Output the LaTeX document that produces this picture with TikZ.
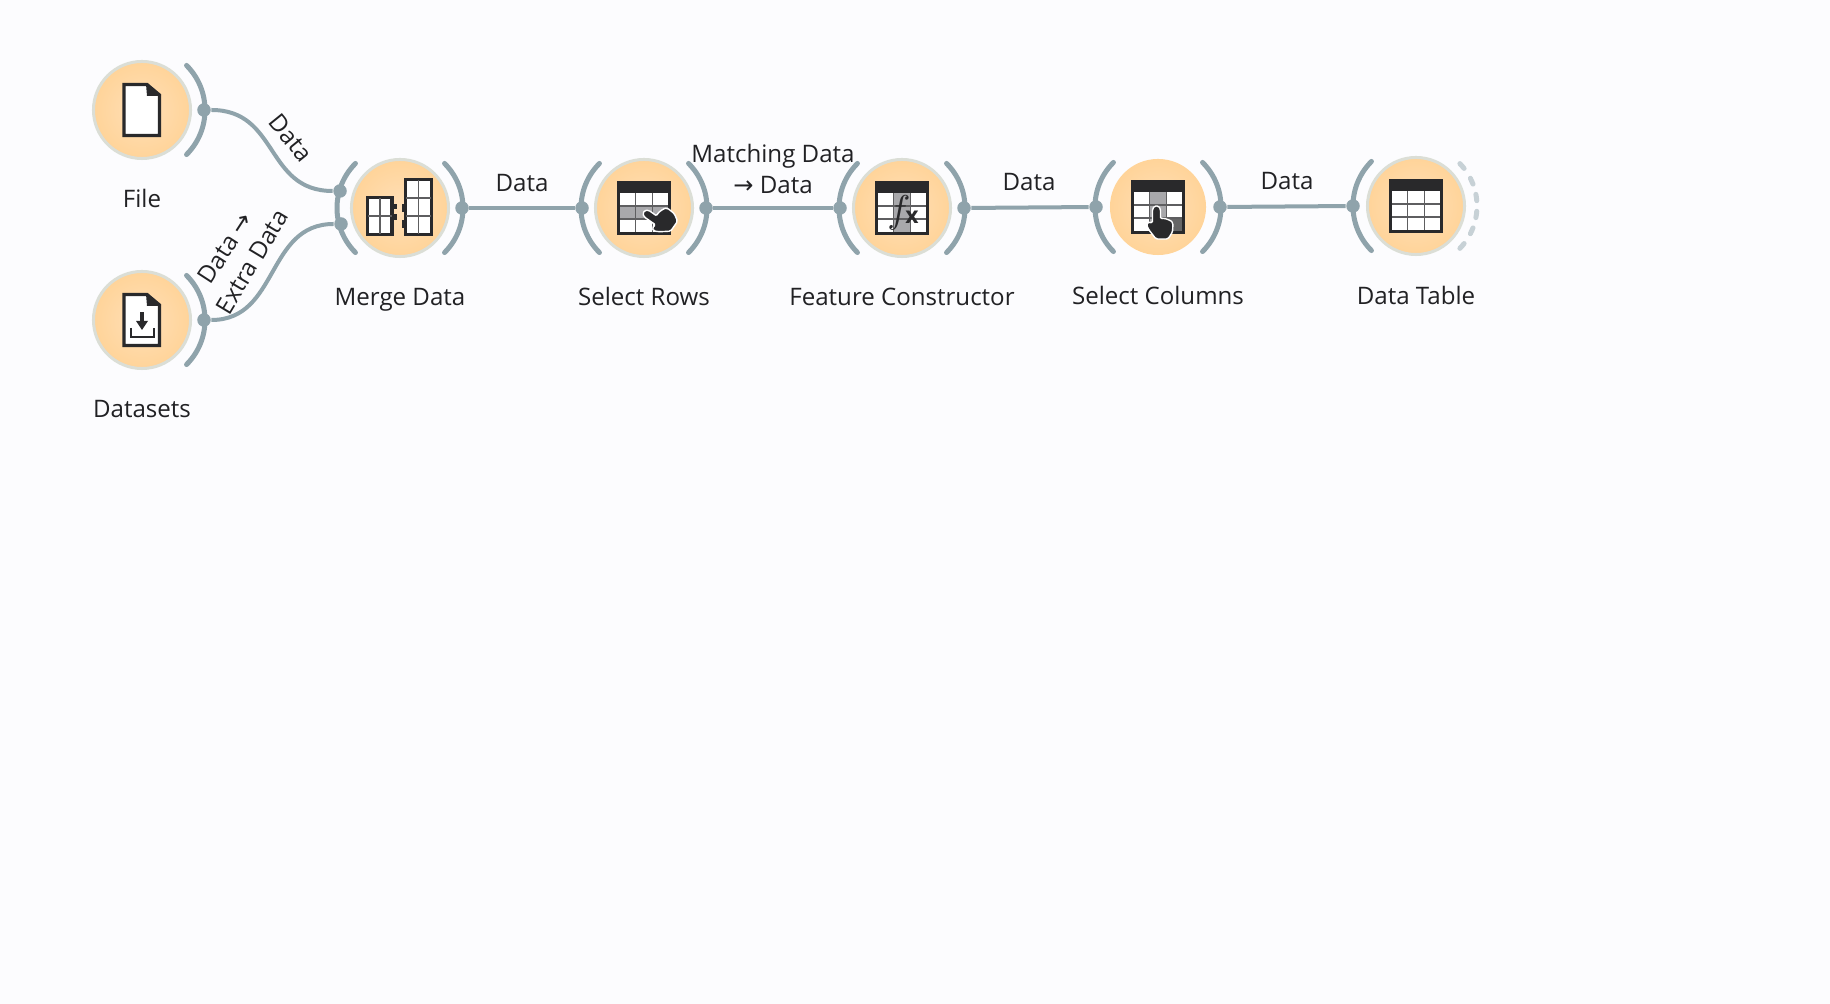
\documentclass[tikz,border=0pt]{standalone}
\usepackage{fontspec}
\setmainfont{Open Sans}
\newfontfamily\arrowfont{DejaVu Sans}
\usepackage{tikz}
\definecolor{pagebg}{rgb}{0.988,0.988,0.996}
\definecolor{linkgray}{rgb}{0.56,0.64,0.67}
\definecolor{dotgray}{rgb}{0.78,0.82,0.84}
\definecolor{halogray}{rgb}{0.86,0.87,0.84}
\definecolor{orangein}{rgb}{1,0.875,0.72}
\definecolor{orangeout}{rgb}{1,0.83,0.60}
\definecolor{icondark}{rgb}{0.16,0.16,0.17}
\definecolor{cellgray}{rgb}{0.66,0.66,0.67}
\definecolor{labelink}{rgb}{0.13,0.13,0.14}
\tikzset{
widget/.style={circle,inner sep=0pt,minimum size=0.97cm,inner color=orangein,outer color=orangeout,draw=halogray,line width=0.03cm},
plainwidget/.style={circle,inner sep=0pt,minimum size=0.96cm,inner color=orangein,outer color=orangeout},
port/.style={circle,inner sep=0pt,minimum size=0.135cm,fill=linkgray},
channel/.style={color=linkgray,line width=0.05cm,line cap=round},
link/.style={color=linkgray,line width=0.04cm},
iconline/.style={color=icondark,line width=0.032cm,line join=miter},
gridline/.style={color=icondark!75,line width=0.014cm},
handshape/.style={fill=icondark,draw=white,line width=0.014cm,rounded corners=0.015cm},
wlabel/.style={font=\fontsize{6.85}{8.5}\selectfont,text=labelink,inner sep=0pt,align=center},
blabel/.style={wlabel,anchor=base}
}
% table glyph, optional argument is drawn under the grid
\newcommand{\tableicon}[2][]{
\begin{scope}[shift={(#2)}]
\fill[white] (-27,-27) rectangle (27,27);
#1
\draw[gridline] (-8.7,-15) -- (-8.7,25);
\draw[gridline] (8.7,-15) -- (8.7,25);
\draw[gridline] (-25,-2) -- (25,-2);
\draw[gridline] (-25,11) -- (25,11);
\fill[icondark] (-27,-27) rectangle (27,-15);
\draw[iconline] (-25.5,-25.5) rectangle (25.5,25.5);
\end{scope}
}
% hand glyph, fingertip at the origin
\newcommand{\handicon}[2]{
\begin{scope}[shift={(#1)},rotate=#2]
\draw[handshape] (-4.5,16) -- (-4.5,2) -- (-2.5,-1) -- (1.5,-1) -- (3.5,2) -- (3.5,12) -- (7,11) -- (10,12.5) -- (13,13) -- (16,16) -- (15.5,25) -- (11,32) -- (-1,32) -- (-8,23) -- (-10.5,18) -- (-9,15) -- cycle;
\end{scope}
}
\begin{document}
\begin{tikzpicture}[line cap=butt,line join=round,x=0.01cm,y=-0.01cm]
\useasboundingbox (0,0) rectangle (1830,1004);
\fill[pagebg] (0,0) rectangle (1830,1004);
% widgets
\node[widget] (file) at (142,110) {};
\node[widget] (datasets) at (142,320) {};
\node[widget] (merge) at (400,208) {};
\node[widget] (rows) at (644,208) {};
\node[widget] (feature) at (902,208) {};
\node[plainwidget] (columns) at (1158,207) {};
\node[widget] (table) at (1416,206) {};
% channels
\foreach \w in {file,datasets,merge,rows,feature,columns}
\draw[channel] (\w.center) ++(-45:63) arc (-45:45:63);
\foreach \w in {merge,rows,feature,columns,table}
\draw[channel] (\w.center) ++(135:63) arc (135:225:63);
\foreach \a in {-41,-24,-8,8,24,41}
\draw[color=dotgray,line width=0.05cm,line cap=round] (table.center) ++(\a-3:61) arc (\a-3:\a+3:61);
% ports
\node[port] (file-out) at (204,110) {};
\node[port] (datasets-out) at (204,320) {};
\node[port] (merge-in1) at (340,191) {};
\node[port] (merge-in2) at (341,224) {};
\node[port] (merge-out) at (462,208) {};
\node[port] (rows-in) at (582,208) {};
\node[port] (rows-out) at (706,208) {};
\node[port] (feature-in) at (840,208) {};
\node[port] (feature-out) at (964,208) {};
\node[port] (columns-in) at (1096,207) {};
\node[port] (columns-out) at (1220,207) {};
\node[port] (table-in) at (1353,206) {};
% links
\draw[link] (file-out) .. controls +(75,0) and +(-75,0) .. (merge-in1);
\draw[link] (datasets-out) .. controls +(75,0) and +(-75,0) .. (merge-in2);
\draw[link] (merge-out) -- (rows-in);
\draw[link] (rows-out) -- (feature-in);
\draw[link] (feature-out) -- (columns-in);
\draw[link] (columns-out) -- (table-in);
% file glyph
\filldraw[iconline,fill=white] (124,84.5) -- (147,84.5) -- (159.5,95) -- (159.5,135.5) -- (124,135.5) -- cycle;
\fill[icondark] (146,84) -- (161,96) -- (147,96) -- cycle;
% datasets glyph
\filldraw[iconline,fill=white] (124,294.5) -- (147,294.5) -- (159.5,305) -- (159.5,345.5) -- (124,345.5) -- cycle;
\fill[icondark] (146,294) -- (161,306) -- (147,306) -- cycle;
\fill[icondark] (140,312) rectangle (144,322);
\fill[icondark] (136,321) -- (148,321) -- (142,330) -- cycle;
\draw[iconline,line width=0.025cm] (131,328) -- (131,337) -- (154,337) -- (154,328);
% merge glyph
\filldraw[iconline,fill=white] (367.5,197.5) rectangle (392,234.5);
\filldraw[iconline,fill=white] (405.5,179.5) rectangle (431.5,234.5);
\draw[gridline] (380,198) -- (380,234);
\draw[gridline] (368,216) -- (392,216);
\draw[gridline] (418.5,180) -- (418.5,234);
\draw[gridline] (406,198) -- (431,198);
\draw[gridline] (406,216) -- (431,216);
\fill[icondark] (392,204) rectangle (397,209);
\fill[icondark] (392,214) rectangle (397,220);
\fill[icondark] (402,204) rectangle (407,212);
\fill[icondark] (402,220) rectangle (407,228);
% table glyphs
\tableicon[{\fill[cellgray] (-25,-2) rectangle (25,11);}]{644,208}
\handicon{645,212}{55}
\tableicon[{\fill[cellgray] (-9,-15) rectangle (9,25);}]{902,208}
\node[inner sep=0pt,text=icondark,scale=1.1] (fx-f) at (899,213) {$f$};
\node[inner sep=0pt,text=icondark,font=\fontsize{6.5}{7}\selectfont\bfseries] (fx-x) at (912,217) {x};
\tableicon[{\fill[cellgray] (-9,-15) rectangle (9,25);\fill[black!60] (9,11) rectangle (25,25);}]{1158,207}
\handicon{1157,207}{0}
\tableicon{1416,206}
% captions
\node[blabel] (file-label) at (142,208) {File};
\node[blabel] (datasets-label) at (142,418) {Datasets};
\node[blabel] (merge-label) at (400,306) {Merge Data};
\node[blabel] (rows-label) at (644,306) {Select Rows};
\node[blabel] (feature-label) at (902,306) {Feature Constructor};
\node[blabel] (columns-label) at (1158,305) {Select Columns};
\node[blabel] (table-label) at (1416,305) {Data Table};
% link labels
\node[wlabel,rotate=-51] (file-data) at (291,138) {Data};
\node[wlabel,rotate=57] (datasets-data) at (225,248) {Data {\arrowfont→}};
\node[wlabel,rotate=59] (datasets-extra) at (252,262) {Extra Data};
\node[blabel] (merge-data) at (522,192) {Data};
\node[blabel] (rows-match) at (773,163) {Matching Data};
\node[blabel] (rows-data) at (773,194) {{\arrowfont→} Data};
\node[blabel] (feature-data) at (1029,191) {Data};
\node[blabel] (columns-data) at (1287,190) {Data};
\end{tikzpicture}
\end{document}
